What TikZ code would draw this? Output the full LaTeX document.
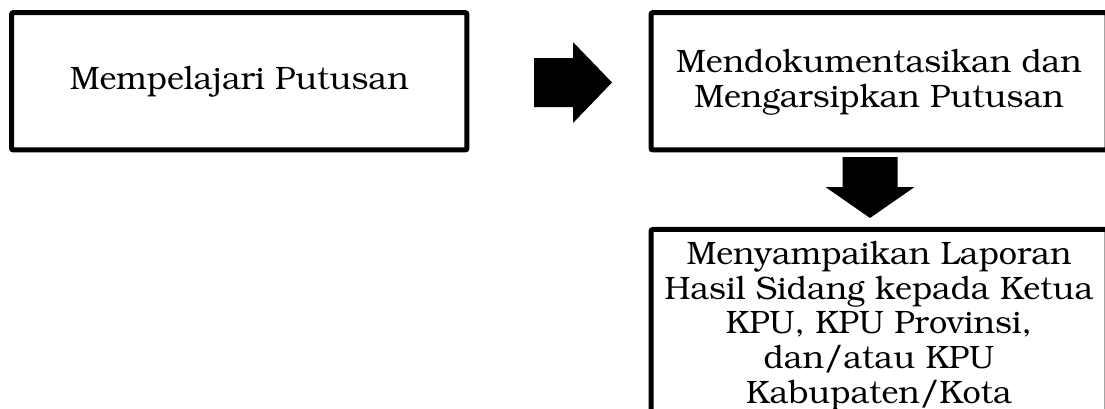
\documentclass[tikz,border=0pt]{standalone}
\usepackage[T1]{fontenc}
\usepackage{bookman}
\begin{document}
\begin{tikzpicture}[x=0.75pt,y=-0.75pt,
  box/.style={draw=black, line width=3.75pt, rounded corners=1.5pt, inner sep=0pt},
  txt/.style={font=\fontsize{24.3}{26}\selectfont, align=center, inner sep=0pt},
  blockarrow/.style={fill=black, draw=none}]
\useasboundingbox (0,0) rectangle (1105,408);
\begin{scope}
\clip (0,0) rectangle (1105,408);
% boxes
\node[box, minimum width=341.6pt, minimum height=103.1pt] (study) at (239.25,81.25) {};
\node[box, minimum width=342pt, minimum height=103.1pt] (archive) at (879,81.25) {};
\node[box, minimum width=342pt, minimum height=142.9pt] (report) at (879,324.75) {};
% texts
\node[txt] (studyt) at ([yshift=-1pt]study.center) {Mempelajari Putusan};
\node[txt] (archivet) at ([yshift=-1pt]archive.center) {Mendokumentasikan dan\\Mengarsipkan Putusan};
\node[txt] (reportt) at ([yshift=-1pt]report.center) {Menyampaikan Laporan\\Hasil Sidang kepada Ketua\\KPU, KPU Provinsi,\\dan/atau KPU\\Kabupaten/Kota};
% block arrows
\fill[blockarrow] (534,58) -- (573,58) -- (573,42) -- (612,82.5) -- (573,123) -- (573,107) -- (534,107) -- cycle;
\fill[blockarrow] (842.5,157) -- (897.5,157) -- (897.5,187) -- (914.5,187) -- (870,218) -- (825.5,187) -- (842.5,187) -- cycle;
\end{scope}
\end{tikzpicture}
\end{document}
